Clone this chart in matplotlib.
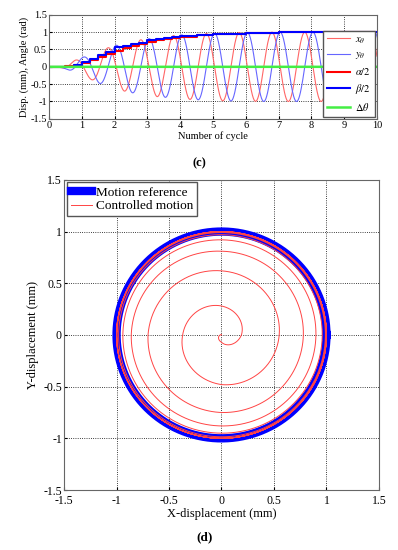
import matplotlib.pyplot as plt
import numpy as np

plt.rcParams['font.family'] = ['Liberation Serif', 'DejaVu Serif']
plt.rcParams['mathtext.fontset'] = 'stix'

# amplitude of the x/y oscillation, read at the extrema (cycles)
env_t = [0.0, 0.3, 0.55, 0.8, 1.05, 1.3, 1.55, 1.8, 2.05, 2.3, 2.55, 2.8, 3.05,
         3.3, 3.55, 3.8, 4.05, 4.3, 4.55, 4.8, 5.05, 5.3, 5.55, 5.8, 6.05,
         6.55, 7.05, 10.0]
env_a = [0.0, 0.01, 0.07, 0.19, 0.28, 0.37, 0.48, 0.55, 0.62, 0.70, 0.75, 0.78,
         0.81, 0.86, 0.88, 0.90, 0.92, 0.94, 0.95, 0.96, 0.97, 0.98, 0.985,
         0.99, 0.99, 1.0, 1.0, 1.0]
phase0 = 0.8  # first x peak (cycles)

# step estimates alpha/2 and beta/2
step_t = [0.0, 0.5, 0.75, 1.0, 1.25, 1.5, 1.75, 2.0, 2.25, 2.5, 2.75, 3.0,
          3.25, 3.5, 3.75, 4.0, 4.5, 5.0, 5.5, 6.0, 6.5, 7.0, 10.0]
alpha_half = [0.0, 0.02, 0.06, 0.10, 0.20, 0.28, 0.36, 0.47, 0.53, 0.60, 0.66,
              0.73, 0.77, 0.80, 0.84, 0.87, 0.91, 0.94, 0.96, 0.98, 0.99, 1.0, 1.0]
beta_half = [0.0, 0.0, 0.04, 0.14, 0.22, 0.34, 0.42, 0.56, 0.59, 0.66, 0.70,
             0.77, 0.79, 0.82, 0.85, 0.88, 0.91, 0.94, 0.96, 0.98, 0.99, 1.0, 1.0]

t = np.linspace(0, 10, 4000)
amp = np.interp(t, env_t, env_a)
x_theta = amp * np.cos(2 * np.pi * (t - phase0))
y_theta = amp * np.sin(2 * np.pi * (t - phase0))
d_theta = np.zeros_like(t)

ref_ang = np.linspace(0, 2 * np.pi, 400)
ref_r = 1.0

fig = plt.figure(figsize=(3.98, 5.50), dpi=100)

# ---- (c) ----
ax1 = fig.add_axes([0.123, 0.784, 0.824, 0.189])
ax1.plot(t, x_theta, color='#ff6666', lw=0.8, label=r'$x_{\theta}$')
ax1.plot(t, y_theta, color='#6666ff', lw=0.8, label=r'$y_{\theta}$')
ax1.step(step_t, alpha_half, where='post', color='red', lw=1.5, label=r'$\alpha/2$')
ax1.step(step_t, beta_half, where='post', color='blue', lw=1.5, label=r'$\beta/2$')
ax1.plot(t, d_theta, color='#44ee44', lw=1.8, label=r'$\Delta\theta$')
ax1.set_xlim(0, 10)
ax1.set_ylim(-1.5, 1.5)
ax1.set_xticks(range(0, 11))
ax1.set_yticks([-1.5, -1, -0.5, 0, 0.5, 1, 1.5])
ax1.set_yticklabels(['-1.5', '-1', '-0.5', '0', '0.5', '1', '1.5'])
ax1.grid(True, color='black', linestyle=':', lw=0.6)
ax1.tick_params(direction='in', labelsize=7.5, length=2, pad=1.5)
ax1.set_xlabel('Number of cycle', fontsize=7.5, labelpad=1)
ax1.set_ylabel('Disp. (mm), Angle (rad)', fontsize=7.5, labelpad=1)
for s in ax1.spines.values():
    s.set_color('#666666')
ax1.legend(loc='lower right', fontsize=7.5, handlelength=2.2,
           borderaxespad=0.2, labelspacing=0.45, fancybox=False,
           edgecolor='#555555', framealpha=1, handletextpad=0.5)
fig.text(0.5, 0.703, '(c)', ha='center', va='center', fontsize=9, weight='bold')

# ---- (d) ----
ax2 = fig.add_axes([0.161, 0.109, 0.791, 0.564])
ax2.plot(ref_r * np.cos(ref_ang), ref_r * np.sin(ref_ang), color='blue', lw=6,
         label='Motion reference')
ax2.plot(x_theta, y_theta, color='#ff4444', lw=0.7, label='Controlled motion')
ax2.set_xlim(-1.5, 1.5)
ax2.set_ylim(-1.5, 1.5)
ticks = [-1.5, -1, -0.5, 0, 0.5, 1, 1.5]
tlabels = ['-1.5', '-1', '-0.5', '0', '0.5', '1', '1.5']
ax2.set_xticks(ticks)
ax2.set_xticklabels(tlabels)
ax2.set_yticks(ticks)
ax2.set_yticklabels(tlabels)
ax2.grid(True, color='black', linestyle=':', lw=0.6)
ax2.tick_params(direction='in', labelsize=8.5, length=2, pad=1.5)
ax2.tick_params(axis='x', pad=3.5)
ax2.set_xlabel('X-displacement (mm)', fontsize=9, labelpad=1)
ax2.set_ylabel('Y-displacement (mm)', fontsize=9, labelpad=3)
for s in ax2.spines.values():
    s.set_color('#666666')
ax2.legend(loc='upper left', fontsize=9.5, handlelength=1.6, borderaxespad=0.2,
           labelspacing=0.1, fancybox=False, edgecolor='#555555',
           framealpha=1, handletextpad=0.3, borderpad=0.3)
fig.text(0.515, 0.024, '(d)', ha='center', va='center', fontsize=9.5, weight='bold')

fig.savefig('out.png', dpi=100)
